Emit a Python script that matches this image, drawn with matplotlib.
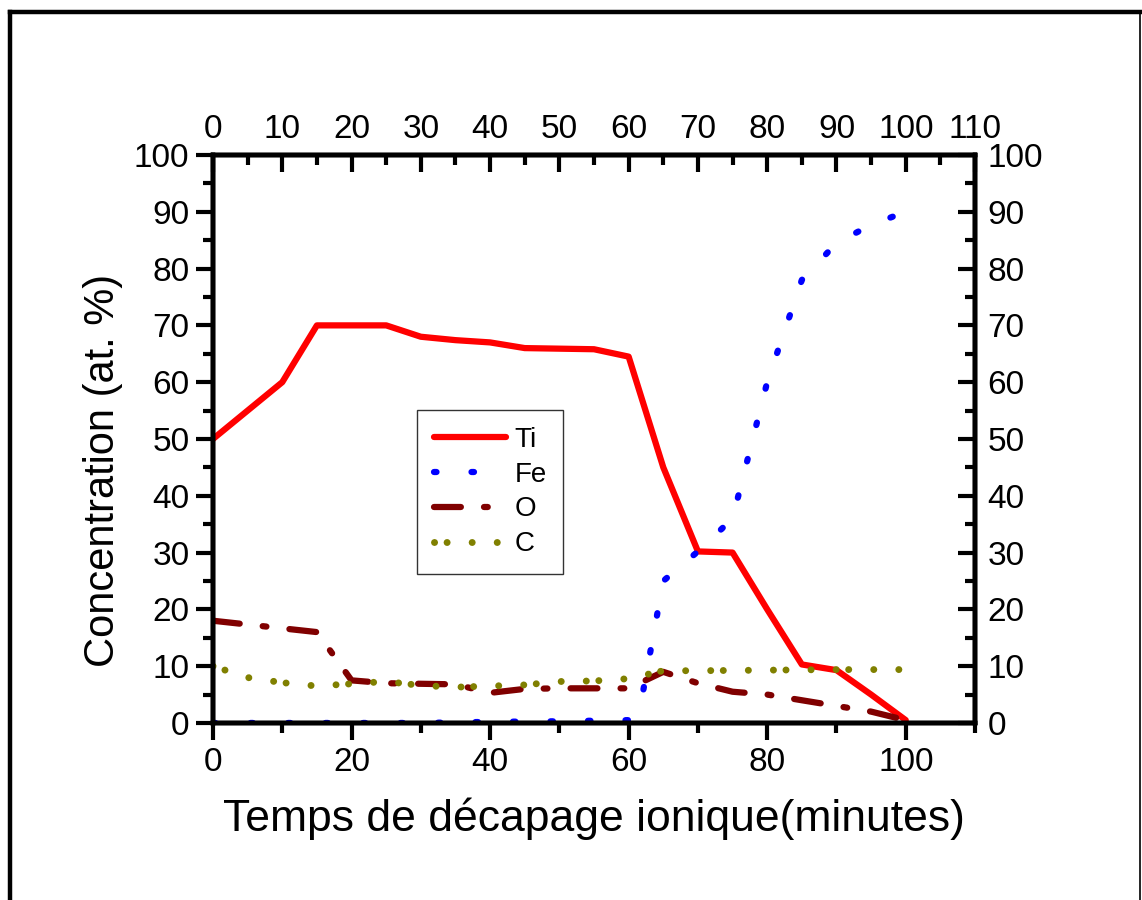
import matplotlib
matplotlib.use("Agg")
import matplotlib.pyplot as plt
from matplotlib.lines import Line2D
from matplotlib.ticker import MultipleLocator

plt.rcParams['font.family'] = ['Liberation Sans', 'DejaVu Sans']

# data
ti_t = [0, 5, 10, 15, 20, 25, 30, 35, 40, 45, 50, 55, 60, 65, 70, 75, 80, 85, 90, 95, 100]
ti_c = [50, 55, 60, 70, 70, 70, 68, 67.4, 67, 66, 65.9, 65.8, 64.5, 45, 30.2, 30, 20, 10.3, 9.3, 5, 0.5]

fe_t = [0, 10, 20, 30, 40, 50, 55, 60, 62, 65, 70, 75, 80, 85, 90, 95, 100]
fe_c = [0, 0, 0, 0, 0.2, 0.3, 0.4, 0.5, 5, 25, 30.2, 36, 60, 78, 84.5, 87.7, 90]

o_t = [0, 15, 20, 25, 35, 40, 45, 50, 55, 60, 65, 70, 75, 80, 85, 90, 95, 100]
o_c = [18, 16, 7.5, 7, 6.8, 5.3, 6, 6.1, 6.1, 6.1, 9, 7, 5.5, 5, 4, 3, 2, 0.5]

c_t = [0, 5, 10, 15, 20, 25, 30, 35, 40, 45, 50, 55, 60, 65, 70, 80, 90, 100]
c_c = [10, 8, 7.1, 6.5, 6.9, 7.3, 6.6, 6.3, 6.5, 6.7, 7.3, 7.4, 7.8, 9.2, 9.2, 9.3, 9.4, 9.4]

x_top_ticks = list(range(0, 111, 10))
x_bottom_ticks = list(range(0, 101, 20))
y_ticks = list(range(0, 101, 10))

fig = plt.figure(figsize=(11.42, 9.0), dpi=100)
ax = fig.add_axes([0.1865, 0.1967, 0.6673, 0.6311])

ax.plot(ti_t, ti_c, color='#ff0000', lw=4.5, solid_capstyle='round', label='Ti')
ax.plot(fe_t, fe_c, color='#0000ff', lw=4.5, dashes=(0.4, 5.6),
        dash_capstyle='round', label='Fe')
ax.plot(o_t, o_c, color='#800000', lw=4.5, dashes=(4.3, 3.7, 0.6, 3.7),
        dash_capstyle='round', label='O')
ax.plot(c_t, c_c, color='#808000', lw=5, dashes=(0.01, 1.8, 0.01, 3.6, 0.01, 3.6),
        dash_capstyle='round', label='C')

ax.set_xlim(0, 110)
ax.set_ylim(0, 100)
ax.set_xticks(x_bottom_ticks)
ax.set_yticks(y_ticks)
ax.xaxis.set_minor_locator(MultipleLocator(10))
ax.yaxis.set_minor_locator(MultipleLocator(5))
ax.tick_params(which='major', direction='out', length=12, width=3, labelsize=24, pad=5)
ax.tick_params(which='minor', direction='out', length=7, width=3)
for s in ax.spines.values():
    s.set_linewidth(3.2)

# top axis
axt = ax.twiny()
axt.set_xlim(0, 110)
axt.set_xticks(x_top_ticks)
axt.xaxis.set_minor_locator(MultipleLocator(5))
axt.tick_params(which='major', direction='in', length=12, width=3, labelsize=24, pad=7)
axt.tick_params(which='minor', direction='in', length=7, width=3)

# right axis
axr = ax.twinx()
axr.set_ylim(0, 100)
axr.set_yticks(y_ticks)
axr.yaxis.set_minor_locator(MultipleLocator(5))
axr.tick_params(which='major', direction='in', length=12, width=3, labelsize=24, pad=9)
axr.tick_params(which='minor', direction='in', length=7, width=3)
for a in (axt, axr):
    for s in a.spines.values():
        s.set_linewidth(3.2)

ax.set_xlabel('Temps de décapage ionique(minutes)', fontsize=32, labelpad=14)
ax.set_ylabel('Concentration (at. %)', fontsize=30, labelpad=8)
ax.yaxis.label.set_y(0.444)

leg = ax.legend(loc='upper left', bbox_to_anchor=(0.268, 0.551), fontsize=20,
                handlelength=2.6, handletextpad=0.3, labelspacing=0.32,
                borderpad=0.6, frameon=True, fancybox=False, borderaxespad=0)
leg.get_frame().set_edgecolor('black')
leg.get_frame().set_linewidth(1.0)
leg.set_zorder(5)

# outer frame (bottom edge falls outside the picture)
fig.add_artist(Line2D([0.0085, 0.0085], [0.0, 0.9867], transform=fig.transFigure, color='black', lw=3.2))
fig.add_artist(Line2D([0.0085, 0.998], [0.9867, 0.9867], transform=fig.transFigure, color='black', lw=3.2))
fig.add_artist(Line2D([0.998, 0.998], [0.0, 0.9867], transform=fig.transFigure, color='black', lw=1.2))

fig.savefig('out.png', dpi=100)
